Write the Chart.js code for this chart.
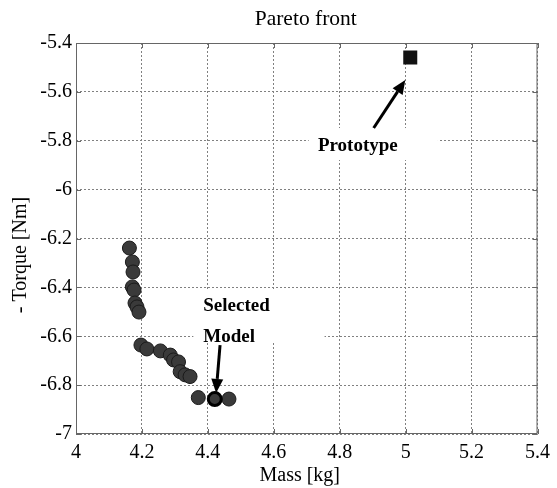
<!DOCTYPE html>
<html>
<head>
<meta charset="utf-8">
<script src="https://cdn.jsdelivr.net/npm/chart.js@4.4.1/dist/chart.umd.min.js"></script>
<style>
  html, body { margin: 0; padding: 0; background: #fff; }
</style>
</head>
<body>
<canvas id="chart" width="557" height="488"></canvas>
<script>
// pareto front: mass [kg] vs - torque [Nm]
const paretoMass = [4.162, 4.171, 4.173, 4.171, 4.176, 4.179, 4.185, 4.191,
  4.197, 4.215, 4.256, 4.286, 4.296, 4.311, 4.316, 4.331, 4.346, 4.371, 4.464];
const paretoTorque = [-6.239, -6.296, -6.337, -6.398, -6.411, -6.464, -6.480, -6.501,
  -6.636, -6.652, -6.660, -6.677, -6.697, -6.705, -6.745, -6.758, -6.765, -6.851, -6.857];
const selectedMass = [4.421];
const selectedTorque = [-6.857];
const prototypeMass = [5.014];
const prototypeTorque = [-5.459];

const xTicks = [4, 4.2, 4.4, 4.6, 4.8, 5, 5.2, 5.4];
const yTicks = [-7, -6.8, -6.6, -6.4, -6.2, -6, -5.8, -5.6, -5.4];

// annotation positions, in data units
const protoLabel = { text: ['Prototype'], x: 4.855, y: -5.822, align: 'center', box: [4.706, 5.098, -5.748, -5.879] };
const selLabel = { text: ['Selected', 'Model'], x: 4.386, y: -6.476, align: 'left', box: [4.356, 4.754, -6.407, -6.623] };
const protoArrow = { from: [4.903, -5.748], to: [4.999, -5.551] };
const selArrow = { from: [4.437, -6.636], to: [4.425, -6.832] };

const serif = '"Liberation Serif", "Times New Roman", serif';

function toPts(xs, ys) {
  return xs.map((x, i) => ({ x: x, y: ys[i] }));
}

function drawArrow(ctx, x1, y1, x2, y2) {
  const a = Math.atan2(y2 - y1, x2 - x1);
  const hl = 14, hw = 6;
  const bx = x2 - hl * Math.cos(a), by = y2 - hl * Math.sin(a);
  ctx.strokeStyle = '#000';
  ctx.fillStyle = '#000';
  ctx.lineWidth = 3;
  ctx.setLineDash([]);
  ctx.beginPath();
  ctx.moveTo(x1, y1);
  ctx.lineTo(bx, by);
  ctx.stroke();
  ctx.beginPath();
  ctx.moveTo(x2, y2);
  ctx.lineTo(bx + hw * Math.sin(a), by - hw * Math.cos(a));
  ctx.lineTo(bx - hw * Math.sin(a), by + hw * Math.cos(a));
  ctx.closePath();
  ctx.fill();
}

const overlay = {
  id: 'overlay',
  beforeDatasetsDraw(chart) {
    const ctx = chart.ctx, xs = chart.scales.x, ys = chart.scales.y;
    ctx.save();
    ctx.fillStyle = '#fff';
    [protoLabel, selLabel].forEach(l => {
      const x0 = xs.getPixelForValue(l.box[0]), x1 = xs.getPixelForValue(l.box[1]);
      const y0 = ys.getPixelForValue(l.box[2]), y1 = ys.getPixelForValue(l.box[3]);
      ctx.fillRect(x0, y0, x1 - x0, y1 - y0);
    });
    // frame + inward ticks
    const a = chart.chartArea;
    ctx.strokeStyle = '#666';
    ctx.lineWidth = 1;
    ctx.strokeRect(a.left + 0.5, a.top + 0.5, a.right - a.left - 1, a.bottom - a.top - 1);
    ctx.beginPath();
    xTicks.forEach(v => {
      const px = Math.round(xs.getPixelForValue(v)) + 0.5;
      ctx.moveTo(px, a.bottom); ctx.lineTo(px, a.bottom - 5);
      ctx.moveTo(px, a.top); ctx.lineTo(px, a.top + 5);
    });
    yTicks.forEach(v => {
      const py = Math.round(ys.getPixelForValue(v)) + 0.5;
      ctx.moveTo(a.left, py); ctx.lineTo(a.left + 5, py);
      ctx.moveTo(a.right, py); ctx.lineTo(a.right - 5, py);
    });
    ctx.stroke();
    ctx.restore();
  },
  afterDatasetsDraw(chart) {
    const ctx = chart.ctx, xs = chart.scales.x, ys = chart.scales.y;
    ctx.save();
    [protoArrow, selArrow].forEach(ar => {
      drawArrow(ctx, xs.getPixelForValue(ar.from[0]), ys.getPixelForValue(ar.from[1]),
        xs.getPixelForValue(ar.to[0]), ys.getPixelForValue(ar.to[1]));
    });
    ctx.fillStyle = '#000';
    ctx.font = 'bold 19px ' + serif;
    ctx.textBaseline = 'middle';
    [protoLabel, selLabel].forEach(l => {
      ctx.textAlign = l.align;
      l.text.forEach((t, i) => {
        ctx.fillText(t, xs.getPixelForValue(l.x), ys.getPixelForValue(l.y) + i * 31);
      });
    });
    const a = chart.chartArea;
    // title
    ctx.textAlign = 'center';
    ctx.textBaseline = 'alphabetic';
    ctx.font = '21.5px ' + serif;
    ctx.fillText('Pareto front', (a.left + a.right) / 2 - 1, 25);
    // axis titles
    ctx.textBaseline = 'middle';
    ctx.font = '20px ' + serif;
    ctx.fillText('Mass [kg]', (a.left + a.right) / 2 - 7, 476);
    ctx.translate(21, 255);
    ctx.rotate(-Math.PI / 2);
    ctx.fillText('- Torque [Nm]', 0, 0);
    ctx.restore();
  }
};

const tickFont = { family: serif, size: 20 };

new Chart(document.getElementById('chart'), {
  type: 'scatter',
  data: {
    datasets: [
      {
        label: 'Pareto front',
        data: toPts(paretoMass, paretoTorque),
        backgroundColor: '#3a3a3a',
        borderColor: '#1a1a1a',
        borderWidth: 1,
        pointRadius: 7,
        order: 2
      },
      {
        label: 'Selected Model',
        data: toPts(selectedMass, selectedTorque),
        backgroundColor: '#3a3a3a',
        borderColor: '#000',
        borderWidth: 3,
        pointRadius: 6.5,
        order: 1
      },
      {
        label: 'Prototype',
        data: toPts(prototypeMass, prototypeTorque),
        pointStyle: 'rect',
        backgroundColor: '#111',
        borderColor: '#111',
        borderWidth: 0,
        pointRadius: 9.9,
        order: 0
      }
    ]
  },
  options: {
    responsive: false,
    animation: false,
    devicePixelRatio: 1,
    layout: { padding: { left: 0, right: 13, top: 43, bottom: 0 } },
    plugins: {
      legend: { display: false },
      tooltip: { enabled: false },
      title: { display: false }
    },
    scales: {
      x: {
        type: 'linear',
        min: 4,
        max: 5.4,
        afterBuildTicks: s => { s.ticks = xTicks.map(v => ({ value: v })); },
        afterFit: s => { s.height = 54; },
        ticks: {
          color: '#000',
          font: tickFont,
          padding: 7,
          maxRotation: 0,
          autoSkip: false,
          callback: v => String(v)
        },
        grid: { color: '#808080', drawTicks: false, lineWidth: 1 },
        border: { display: false, dash: [2, 2] }
      },
      y: {
        type: 'linear',
        min: -7,
        max: -5.4,
        afterBuildTicks: s => { s.ticks = yTicks.map(v => ({ value: v })); },
        afterFit: s => { s.width = 76; },
        ticks: {
          color: '#000',
          font: tickFont,
          padding: 4,
          autoSkip: false,
          callback: v => String(v)
        },
        grid: { color: '#808080', drawTicks: false, lineWidth: 1 },
        border: { display: false, dash: [2, 2] }
      }
    }
  },
  plugins: [overlay]
});
</script>
</body>
</html>
